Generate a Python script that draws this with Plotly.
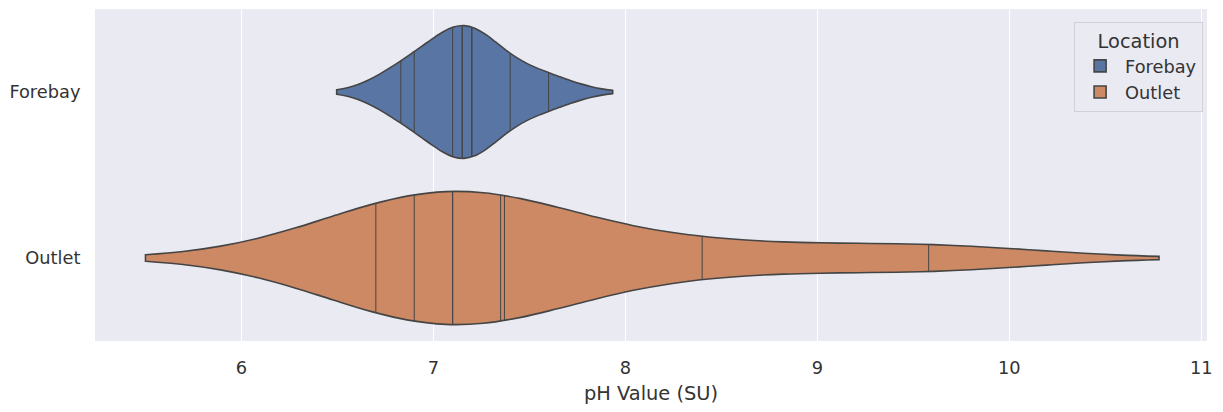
import numpy as np
import plotly.graph_objects as go

# pH observations by sampling location
locations = ["Forebay", "Outlet"]
forebay_ph = [6.83, 6.90, 7.10, 7.15, 7.15, 7.20, 7.20, 7.40, 7.60]
outlet_ph = [6.70, 6.90, 7.10, 7.10, 7.35, 7.37, 8.40, 9.58]
bandwidths = [0.167, 0.60]
x_ticks = [6, 7, 8, 9, 10, 11]

fills = ["#5875a4", "#cc8963"]
edge = "#454545"
violin_width = 0.8
FONT = "DejaVu Sans"


def gaussian_kde(samples, bw, grid):
    s = np.asarray(samples, dtype=float)
    z = (grid[:, None] - s[None, :]) / bw
    return np.exp(-0.5 * z ** 2).sum(axis=1) / (len(s) * bw * np.sqrt(2 * np.pi))


fig = go.Figure()
for pos, (name, vals, bw, fill) in enumerate(
        zip(locations, [forebay_ph, outlet_ph], bandwidths, fills)):
    fig.add_trace(go.Violin(
        x=vals, y0=pos, orientation="h", name=name,
        bandwidth=bw, spanmode="soft", scalemode="width",
        width=violin_width, points=False,
        fillcolor=fill, opacity=1,
        line=dict(color=edge, width=1.6),
        box=dict(visible=False), meanline=dict(visible=False),
        hoveron="violins",
    ))

    # one stick per observation, reaching the density outline
    lo, hi = min(vals) - 2 * bw, max(vals) + 2 * bw
    n = int(np.ceil((hi - lo) / (bw / 3)))
    grid = np.linspace(lo, hi, n + 1)
    max_d = gaussian_kde(vals, bw, grid).max()
    half = violin_width / 2 * gaussian_kde(vals, bw, np.asarray(vals)) / max_d
    sx, sy = [], []
    for v, h in zip(vals, half):
        sx += [v, v, None]
        sy += [pos - h, pos + h, None]
    fig.add_trace(go.Scatter(
        x=sx, y=sy, mode="lines", showlegend=False, hoverinfo="skip",
        line=dict(color=edge, width=1),
    ))

fig.update_layout(
    width=1223, height=412,
    margin=dict(l=95, r=16, t=9, b=71),
    paper_bgcolor="white",
    plot_bgcolor="#eaeaf2",
    font=dict(family=FONT, size=17.8, color="#333333"),
    showlegend=True,
    legend=dict(
        title=dict(text="Location", side="top center",
                   font=dict(size=19.4, color="#333333")),
        x=0.9965, y=0.962, xanchor="right", yanchor="top",
        bgcolor="rgba(234,234,242,0.8)", bordercolor="#d0d0d6", borderwidth=1,
        itemwidth=40, font=dict(size=17.8, color="#333333"),
    ),
    xaxis=dict(
        range=[5.237, 11.03], tickvals=x_ticks,
        showgrid=True, gridcolor="white", gridwidth=1.4,
        zeroline=False, showline=False,
        ticks="outside", ticklen=11, tickcolor="rgba(0,0,0,0)",
        title=dict(text="pH Value (SU)", font=dict(size=19.4), standoff=9),
    ),
    yaxis=dict(
        range=[1.5, -0.5], tickvals=[0, 1], ticktext=locations,
        showgrid=False, zeroline=False, showline=False,
        ticks="outside", ticklen=10, tickcolor="rgba(0,0,0,0)",
    ),
)

fig.write_html("out.html")
